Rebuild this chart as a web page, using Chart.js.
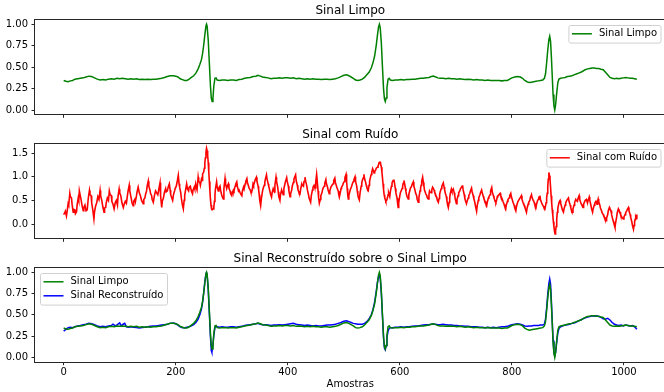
<!DOCTYPE html>
<html>
<head>
<meta charset="utf-8">
<script src="https://cdn.jsdelivr.net/npm/chart.js@4.4.0/dist/chart.umd.min.js"></script>
<style>
  html, body { margin: 0; padding: 0; background: #fff; overflow: hidden; }
  body { width: 664px; height: 392px; position: relative; }
  canvas { position: absolute; left: 0; }
</style>
</head>
<body>
<canvas id="c1" width="668" height="124" style="top:0px"></canvas>
<canvas id="c2" width="668" height="124" style="top:124px"></canvas>
<canvas id="c3" width="668" height="144" style="top:248px"></canvas>
<script>
// --- Dados (amostra, valor) ---
const nAmostras = 1024;
const ticksAmostras = [0, 200, 400, 600, 800, 1000];
const ticksLimpo = [0, 0.25, 0.5, 0.75, 1.0];
const ticksRuido = [0, 0.5, 1.0, 1.5];

const sinalLimpo = [
  [0,0.345],[4,0.335],[8,0.33],[12,0.34],[16,0.345],[20,0.36],[25,0.365],[30,0.37],[35,0.375],[40,0.385],
  [45,0.395],[50,0.39],[55,0.375],[60,0.36],[65,0.35],[70,0.355],[75,0.35],[80,0.36],[85,0.365],[90,0.36],
  [95,0.37],[100,0.365],[105,0.37],[110,0.365],[115,0.36],[120,0.365],[125,0.36],[130,0.365],[135,0.355],[140,0.36],
  [145,0.355],[150,0.36],[155,0.355],[160,0.36],[165,0.36],[170,0.365],[175,0.37],[180,0.38],[185,0.39],[190,0.40],
  [196,0.40],[200,0.395],[204,0.385],[208,0.365],[212,0.355],[216,0.345],[220,0.345],[224,0.36],[228,0.38],[232,0.40],
  [236,0.43],[240,0.48],[243,0.53],[246,0.59],[248,0.66],[250,0.76],[252,0.88],[254,0.98],[255,1.0],[256,0.98],
  [258,0.82],[260,0.55],[262,0.28],[263.5,0.14],[265,0.10],[266.5,0.14],[268,0.28],[270,0.37],[272,0.375],[274,0.35],
  [278,0.345],[283,0.35],[288,0.35],[293,0.345],[298,0.35],[303,0.35],[308,0.345],[313,0.355],[318,0.36],[323,0.37],
  [328,0.375],[333,0.38],[338,0.39],[343,0.395],[347,0.405],[351,0.395],[355,0.385],[360,0.38],[365,0.375],[370,0.365],
  [375,0.37],[380,0.37],[385,0.375],[390,0.37],[395,0.375],[400,0.375],[405,0.37],[410,0.375],[415,0.365],[420,0.37],
  [425,0.365],[430,0.36],[435,0.365],[440,0.36],[445,0.365],[450,0.36],[455,0.36],[460,0.355],[465,0.36],[470,0.36],
  [475,0.355],[480,0.36],[485,0.365],[490,0.375],[495,0.39],[500,0.405],[505,0.41],[509,0.40],[513,0.385],[517,0.37],
  [521,0.35],[525,0.345],[529,0.35],[533,0.36],[537,0.38],[541,0.41],[545,0.44],[549,0.49],[552,0.55],[555,0.63],
  [558,0.76],[560,0.87],[562,0.97],[563.5,1.0],[565,0.96],[567,0.78],[569,0.50],[571,0.24],[572.5,0.13],[574,0.10],
  [575.5,0.14],[577,0.26],[579,0.36],[581,0.37],[583,0.35],[587,0.345],[592,0.35],[597,0.35],[602,0.355],[607,0.35],
  [612,0.355],[617,0.355],[622,0.36],[627,0.36],[632,0.365],[637,0.37],[642,0.37],[647,0.375],[652,0.38],[656,0.39],
  [660,0.395],[664,0.385],[668,0.375],[672,0.37],[677,0.37],[682,0.365],[687,0.37],[692,0.365],[697,0.365],[702,0.36],
  [707,0.365],[712,0.36],[717,0.355],[722,0.36],[727,0.355],[732,0.35],[737,0.355],[742,0.35],[747,0.35],[752,0.345],
  [757,0.35],[762,0.345],[767,0.345],[772,0.345],[777,0.345],[782,0.34],[787,0.345],[792,0.345],[796,0.36],[800,0.375],
  [805,0.385],[810,0.39],[815,0.385],[819,0.37],[823,0.345],[827,0.33],[831,0.32],[835,0.325],[839,0.33],[843,0.335],
  [847,0.34],[851,0.345],[855,0.35],[858,0.37],[860,0.42],[862,0.55],[864,0.70],[866,0.82],[867.5,0.86],[869,0.80],
  [870.5,0.62],[872,0.40],[873.5,0.18],[875,0.05],[876.5,0.0],[878,0.06],[880,0.20],[882,0.32],[884,0.36],[887,0.37],
  [891,0.375],[895,0.38],[899,0.39],[903,0.395],[907,0.40],[911,0.41],[915,0.42],[919,0.43],[923,0.44],[927,0.455],
  [931,0.47],[935,0.48],[939,0.485],[943,0.49],[947,0.49],[951,0.485],[955,0.485],[959,0.475],[963,0.47],[967,0.44],
  [971,0.41],[975,0.38],[979,0.37],[983,0.365],[987,0.37],[991,0.365],[995,0.37],[999,0.375],[1003,0.38],[1007,0.375],
  [1011,0.37],[1015,0.37],[1019,0.365],[1023,0.36]
];

const sinalRuido = [
  [0,0.20],[2,0.24],[3,0.27],[5,0.17],[6,0.25],[8,0.43],[9,0.40],[11,0.65],[12,0.58],[14,0.55],
  [15,0.42],[17,0.25],[18,0.31],[20,0.30],[21,0.22],[23,0.26],[24,0.40],[26,0.55],[27,0.50],[28,0.70],
  [30,0.58],[31,0.52],[33,0.38],[35,0.28],[36,0.35],[38,0.40],[40,0.28],[42,0.30],[44,0.55],[46,0.71],
  [47,0.62],[49,0.60],[50,0.45],[52,0.30],[54,0.11],[55,0.25],[57,0.38],[59,0.45],[61,0.58],[63,0.52],
  [65,0.71],[66,0.60],[68,0.50],[70,0.36],[72,0.25],[73,0.34],[75,0.35],[76,0.45],[78,0.55],[80,0.50],
  [81.5,0.70],[83,0.62],[85,0.60],[86,0.48],[88,0.42],[90,0.32],[92,0.45],[94,0.50],[96,0.40],[97,0.58],
  [99,0.74],[100,0.66],[102,0.60],[104,0.45],[106.5,0.35],[108,0.42],[110,0.48],[112,0.44],[114,0.62],[115,0.70],
  [117,0.82],[118,0.70],[120,0.58],[122,0.45],[124,0.39],[125,0.48],[127,0.52],[128,0.47],[130,0.60],[131,0.68],
  [133,0.78],[135,0.66],[137,0.60],[139,0.50],[142,0.43],[143,0.52],[145,0.55],[146,0.62],[148,0.70],[149,0.80],
  [151,0.91],[152,0.80],[154,0.72],[155,0.65],[157,0.60],[158,0.52],[160,0.46],[162,0.60],[164,0.70],[166,0.66],
  [168,0.62],[170,0.74],[172,0.87],[173,0.60],[175,0.35],[176,0.48],[178,0.55],[180,0.68],[182,0.75],[183,0.68],
  [185,0.70],[187,0.80],[188.6,0.85],[190,0.72],[191,0.62],[193,0.55],[194.5,0.50],[196,0.62],[198,0.70],[199,0.75],
  [201,0.80],[203,0.92],[204.6,1.03],[206,0.85],[207,0.78],[209,0.66],[210,0.55],[212,0.40],[213.6,0.32],[215,0.50],
  [216,0.60],[218,0.75],[219.5,0.85],[221,0.74],[223,0.70],[224,0.78],[226,0.80],[228,0.70],[230,0.64],[231,0.72],
  [233,0.78],[234,0.74],[235.6,0.85],[237,0.76],[238,0.72],[240,0.99],[241,0.90],[243,0.88],[244,0.82],[246,0.95],
  [247,0.92],[248,1.06],[250,1.10],[251,1.18],[252,1.30],[253,1.40],[254,1.52],[255,1.60],[256,1.55],[257,1.45],
  [258,1.30],[259,1.10],[260,0.90],[261,0.70],[262,0.52],[263,0.40],[264,0.32],[265,0.30],[266,0.30],[267,0.32],
  [268,0.35],[269,0.48],[270,0.62],[271,0.75],[273,0.89],[274,0.78],[276,0.70],[277,0.76],[279,0.80],[280,0.72],
  [282,0.62],[283,0.58],[285,0.53],[286,0.75],[288,0.96],[289,0.85],[291,0.75],[292,0.80],[294,0.85],[295,0.76],
  [297,0.70],[298,0.64],[300,0.60],[301,0.66],[303,0.72],[304,0.70],[306,0.80],[307,0.84],[309,0.89],[310,0.80],
  [312,0.70],[313,0.72],[315,0.66],[316,0.64],[318,0.60],[319,0.70],[321,0.78],[322,0.74],[324,0.85],[325,0.90],
  [327,0.96],[328,0.88],[330,0.80],[331,0.76],[333,0.72],[334,0.68],[335.5,0.67],[337,0.76],[338,0.85],[339,0.82],
  [341,0.90],[342,0.94],[344,0.99],[345,0.90],[347,0.80],[348,0.72],[349,0.62],[350,0.50],[351.6,0.39],[353,0.55],
  [355,0.70],[356,0.75],[358,0.82],[359,0.88],[360,0.95],[362,1.04],[363,0.95],[365,0.85],[366,0.80],[368,0.70],
  [369,0.64],[371,0.57],[372,0.66],[374,0.75],[375,0.72],[376,0.68],[377,0.82],[379,0.99],[380,0.90],[382,0.78],
  [383,0.68],[384,0.58],[386,0.50],[387,0.62],[389,0.72],[390,0.68],[392,0.62],[393,0.75],[395,0.85],[396,0.90],
  [398,0.98],[399,0.90],[401,0.80],[402,0.70],[404,0.58],[405,0.64],[407,0.72],[408,0.80],[410,0.88],[411,0.95],
  [412,0.98],[414,1.04],[415,0.92],[417,0.82],[418,0.74],[419,0.70],[420,0.66],[421.8,0.64],[423,0.74],[425,0.85],
  [426,0.82],[428,0.80],[429,0.90],[430.7,0.99],[432,0.90],[434,0.80],[435,0.72],[437,0.62],[438,0.55],[440.8,0.46],
  [442,0.60],[444,0.72],[445,0.78],[447,0.82],[448,0.78],[449,0.76],[450,0.90],[451.5,1.05],[453,0.85],[454,0.70],
  [455,0.56],[456.3,0.44],[458,0.52],[459,0.60],[461,0.66],[462,0.72],[463,0.76],[465,0.80],[466,0.86],[468,0.94],
  [469,0.85],[471,0.78],[472,0.72],[474,0.64],[475,0.70],[477,0.78],[478,0.80],[480,0.84],[481,0.85],[482,0.92],
  [484,0.97],[485,0.88],[487,0.80],[488,0.76],[490,0.70],[491,0.62],[492,0.57],[494,0.68],[495,0.75],[496,0.78],
  [498,0.82],[499,0.86],[501,0.90],[502,0.98],[504,1.05],[505,0.90],[506,0.75],[507,0.62],[508,0.53],[509,0.60],
  [511,0.70],[512,0.74],[514,0.80],[515,0.84],[517,0.90],[518,0.94],[520,1.00],[521,0.90],[523,0.80],[524,0.70],
  [525,0.62],[526,0.56],[527.7,0.51],[529,0.66],[531,0.80],[532,0.86],[533,0.92],[535,0.98],[536,1.05],[537,0.96],
  [539,0.88],[540,0.82],[541,0.78],[542,0.74],[543.7,0.71],[545,0.82],[546,0.90],[547,0.96],[549,1.05],[550,1.10],
  [551.5,1.17],[553,1.12],[554,1.08],[555,1.10],[557,1.15],[558,1.18],[560,1.20],[561,1.22],[562,1.25],[563,1.30],
  [564.6,1.31],[565,1.30],[566,1.28],[567,1.20],[568,1.10],[569,0.98],[570,0.85],[571,0.72],[572,0.62],[573,0.56],
  [574,0.52],[575,0.48],[576.5,0.50],[578,0.56],[579,0.62],[580,0.66],[582,0.58],[583,0.68],[585,0.80],[586,0.86],
  [587,0.90],[588,0.92],[589.5,0.94],[591,0.82],[592,0.75],[593,0.66],[595,0.55],[596,0.44],[597,0.35],[598,0.45],
  [600,0.60],[601,0.66],[603,0.72],[604,0.75],[605,0.80],[606,0.86],[607.4,0.92],[609,0.82],[610,0.75],[611,0.68],
  [612,0.62],[613,0.58],[615,0.53],[616,0.62],[618,0.72],[619,0.76],[621,0.80],[622,0.84],[624,0.89],[625,0.80],
  [627,0.72],[628,0.66],[630,0.60],[631,0.52],[633,0.46],[634,0.56],[636,0.70],[637,0.76],[638,0.82],[639,0.90],
  [640.7,0.99],[642,0.88],[643,0.80],[644,0.72],[646,0.65],[647,0.62],[648,0.60],[649,0.56],[650.8,0.53],[652,0.62],
  [653,0.70],[654,0.68],[656,0.66],[657,0.72],[658.5,0.78],[660,0.75],[661,0.72],[662,0.68],[664,0.62],[665,0.58],
  [666,0.55],[667,0.50],[668.7,0.46],[670,0.54],[671,0.62],[672,0.68],[674,0.75],[675,0.80],[677.6,0.87],[679,0.78],
  [680,0.72],[681,0.66],[683,0.58],[684,0.50],[685,0.42],[686.5,0.35],[688,0.46],[689,0.55],[690,0.64],[692,0.74],
  [693,0.70],[695.4,0.74],[697,0.66],[698,0.60],[699,0.52],[701,0.43],[702,0.52],[704,0.60],[705,0.66],[707,0.70],
  [708,0.74],[710,0.78],[711,0.80],[712,0.82],[713,0.72],[715,0.62],[716,0.54],[717,0.50],[719,0.43],[720,0.48],
  [722,0.55],[723,0.60],[725,0.65],[726,0.70],[728,0.76],[729,0.68],[731,0.60],[732,0.54],[734,0.45],[735,0.38],
  [737,0.27],[738,0.38],[740,0.50],[741,0.56],[743,0.62],[744,0.66],[746,0.72],[747,0.66],[749,0.58],[750,0.54],
  [752,0.48],[753,0.44],[755,0.39],[756,0.46],[758,0.55],[759,0.58],[761,0.62],[762,0.70],[764,0.77],[765,0.68],
  [767,0.60],[768,0.56],[769,0.52],[770,0.49],[771.5,0.46],[773,0.52],[774,0.58],[775,0.60],[777,0.62],[778,0.64],
  [779,0.65],[780,0.60],[782,0.55],[784,0.48],[786,0.42],[787,0.38],[789,0.32],[790,0.40],[792,0.48],[793,0.52],
  [795,0.55],[796,0.60],[798,0.65],[799,0.58],[801,0.50],[802,0.46],[804,0.40],[805,0.34],[807,0.28],[808,0.36],
  [810,0.45],[811,0.48],[813,0.52],[815,0.56],[817,0.60],[818,0.52],[820,0.45],[821,0.42],[823,0.38],[824,0.32],
  [826,0.25],[827,0.33],[829,0.42],[830,0.46],[832,0.50],[833,0.56],[835,0.62],[836,0.56],[838,0.50],[839,0.48],
  [840,0.45],[841,0.40],[843,0.35],[844,0.42],[846,0.50],[847,0.52],[848,0.55],[849,0.58],[850,0.60],[851,0.52],
  [853,0.45],[854,0.42],[856,0.38],[857,0.35],[859,0.32],[860,0.38],[861,0.45],[862,0.55],[863,0.65],[864,0.80],
  [865,0.95],[866,1.09],[867,1.02],[868,0.95],[869,0.78],[870,0.60],[871,0.45],[872,0.30],[873,0.18],[874,0.05],
  [875,-0.05],[876,-0.15],[877,-0.21],[878,-0.14],[879,-0.05],[880,0.10],[881,0.25],[882,0.34],[884,0.45],[885,0.48],
  [886,0.50],[887,0.44],[889,0.35],[890,0.30],[892,0.25],[893,0.32],[895,0.40],[896,0.45],[898,0.50],[899,0.52],
  [901,0.55],[902,0.48],[904,0.40],[905,0.35],[906,0.30],[907,0.27],[908,0.25],[909,0.32],[911,0.40],[912,0.46],
  [914,0.52],[915,0.50],[917,0.48],[918,0.54],[920,0.60],[921,0.52],[923,0.45],[924,0.42],[925,0.40],[926,0.37],
  [927,0.35],[928,0.42],[930,0.48],[931,0.50],[933,0.52],[934,0.48],[935,0.45],[936,0.50],[938,0.57],[939,0.50],
  [941,0.40],[942,0.33],[944,0.25],[945,0.32],[947,0.40],[948,0.44],[950,0.48],[951,0.45],[952,0.42],[953,0.48],
  [954,0.53],[955,0.47],[957,0.40],[958,0.34],[960,0.28],[961,0.24],[963,0.20],[964,0.17],[965,0.15],[966,0.11],
  [968,0.07],[969,0.13],[971,0.20],[972,0.28],[974,0.35],[975,0.32],[977,0.28],[978,0.20],[980,0.10],[981,0.06],
  [982,0.02],[983,-0.03],[984,-0.07],[985,0.02],[987,0.15],[988,0.24],[990,0.32],[991,0.29],[993,0.25],[994,0.20],
  [996,0.15],[997,0.13],[999,0.11],[1000,0.15],[1002,0.20],[1003,0.24],[1005,0.28],[1006,0.31],[1008,0.35],[1009,0.28],
  [1011,0.20],[1012,0.14],[1014,0.05],[1015,-0.02],[1017,-0.11],[1018,-0.03],[1019,0.05],[1020,0.10],[1021,0.15],[1022,0.12],
  [1023,0.20]
];

const sinalReconstruido = [
  [0,0.31],[4,0.33],[8,0.35],[12,0.355],[16,0.35],[20,0.36],[25,0.37],[30,0.375],[35,0.385],[40,0.39],
  [45,0.40],[50,0.395],[55,0.385],[60,0.37],[65,0.36],[70,0.365],[75,0.36],[80,0.37],[85,0.375],[88,0.39],
  [92,0.37],[96,0.385],[100,0.405],[103,0.37],[106,0.39],[109,0.40],[112,0.36],[116,0.355],[120,0.36],[125,0.355],
  [130,0.35],[135,0.345],[140,0.35],[145,0.355],[150,0.36],[155,0.365],[160,0.37],[165,0.37],[170,0.375],[175,0.38],
  [180,0.385],[185,0.39],[190,0.40],[196,0.405],[200,0.395],[204,0.38],[208,0.36],[212,0.35],[216,0.35],[220,0.355],
  [224,0.36],[228,0.37],[232,0.385],[236,0.41],[240,0.45],[243,0.50],[246,0.57],[248,0.65],[250,0.76],[252,0.89],
  [254,0.985],[255,0.995],[256,0.97],[258,0.80],[260,0.52],[262,0.24],[263.5,0.08],[264.5,0.06],[266,0.12],[268,0.26],
  [270,0.35],[272,0.37],[274,0.36],[278,0.355],[283,0.36],[288,0.355],[293,0.355],[298,0.36],[303,0.36],[308,0.355],
  [313,0.36],[318,0.365],[323,0.375],[328,0.38],[333,0.385],[338,0.39],[343,0.395],[347,0.40],[351,0.39],[355,0.385],
  [360,0.385],[365,0.38],[370,0.375],[375,0.38],[380,0.38],[385,0.385],[390,0.38],[395,0.385],[400,0.39],[405,0.395],
  [410,0.40],[415,0.39],[420,0.385],[425,0.38],[430,0.375],[435,0.38],[440,0.375],[445,0.37],[450,0.375],[455,0.37],
  [460,0.37],[465,0.375],[470,0.38],[475,0.38],[480,0.385],[485,0.39],[490,0.40],[495,0.41],[500,0.425],[505,0.43],
  [509,0.42],[513,0.41],[517,0.40],[521,0.395],[525,0.39],[529,0.39],[533,0.39],[537,0.40],[541,0.42],[545,0.45],
  [549,0.50],[552,0.56],[555,0.65],[558,0.78],[560,0.88],[562,0.95],[563.5,0.97],[565,0.93],[567,0.75],[569,0.48],
  [571,0.22],[572.5,0.11],[574,0.09],[575.5,0.14],[577,0.24],[579,0.31],[581,0.34],[583,0.35],[587,0.35],[592,0.355],
  [597,0.355],[602,0.36],[607,0.355],[612,0.36],[617,0.36],[622,0.365],[627,0.37],[632,0.37],[637,0.375],[642,0.38],
  [647,0.385],[652,0.385],[656,0.39],[660,0.39],[664,0.39],[668,0.385],[672,0.385],[677,0.39],[682,0.385],[687,0.38],
  [692,0.38],[697,0.375],[702,0.375],[707,0.37],[712,0.37],[717,0.365],[722,0.365],[727,0.36],[732,0.36],[737,0.36],
  [742,0.355],[747,0.355],[752,0.35],[757,0.355],[762,0.35],[767,0.355],[772,0.35],[777,0.355],[782,0.36],[787,0.36],
  [792,0.365],[796,0.375],[800,0.385],[805,0.39],[810,0.395],[815,0.39],[819,0.38],[823,0.37],[827,0.365],[831,0.37],
  [835,0.37],[839,0.375],[843,0.375],[847,0.375],[851,0.38],[855,0.38],[858,0.39],[860,0.45],[862,0.58],[864,0.74],
  [866,0.87],[867.5,0.92],[869,0.86],[870.5,0.66],[872,0.43],[873.5,0.20],[875,0.06],[876.5,0.02],[878,0.06],[880,0.18],
  [882,0.29],[884,0.34],[887,0.36],[891,0.37],[895,0.38],[899,0.385],[903,0.39],[907,0.40],[911,0.405],[915,0.415],
  [919,0.43],[923,0.44],[927,0.455],[931,0.465],[935,0.475],[939,0.48],[943,0.49],[947,0.485],[951,0.49],[955,0.48],
  [959,0.47],[963,0.455],[967,0.45],[971,0.46],[975,0.44],[979,0.41],[983,0.39],[987,0.38],[991,0.375],[995,0.38],
  [999,0.37],[1003,0.38],[1007,0.375],[1011,0.37],[1015,0.375],[1019,0.36],[1023,0.33]
];

// --- Estilo ---
const FONT = '"DejaVu Sans", sans-serif';
const EIXO = '#262626';

// margem de 5% como no matplotlib
function faixa(lo, hi) { const m = (hi - lo) * 0.05; return [lo - m, hi + m]; }
const [xMin, xMax] = faixa(0, nAmostras - 1);
function faixaY(lista) {
  const vals = lista.flatMap(s => s.map(p => p[1]));
  return faixa(Math.min(...vals), Math.max(...vals));
}

// moldura completa (4 lados)
const moldura = {
  id: 'moldura',
  afterDatasetsDraw(chart) {
    const { ctx, chartArea: a } = chart;
    ctx.save();
    ctx.strokeStyle = EIXO;
    ctx.lineWidth = 1;
    ctx.strokeRect(Math.round(a.left) - 0.5, Math.round(a.top) - 0.5, Math.round(a.right) - Math.round(a.left) + 1, Math.round(a.bottom) - Math.round(a.top) + 1);
    ctx.restore();
  }
};

// legenda no estilo matplotlib, dentro da área
const legendaMpl = {
  id: 'legendaMpl',
  afterDatasetsDraw(chart, args, opts) {
    const { ctx, chartArea: a } = chart;
    const fs = 10, pad = 3.5, handle = 20, gap = 7, row = 14;
    const itens = chart.data.datasets;
    ctx.save();
    ctx.font = fs + 'px ' + FONT;
    const tw = Math.max(...itens.map(d => ctx.measureText(d.label).width));
    const w = pad + handle + gap + tw + pad;
    const h = 3.6 + row * itens.length;
    const x = opts.canto === 'left' ? a.left + 5 : a.right - 5 - w;
    const y = a.top + 5;
    ctx.beginPath();
    ctx.roundRect(x + 0.5, y + 0.5, w, h, 2);
    ctx.fillStyle = 'rgba(255,255,255,0.8)';
    ctx.fill();
    ctx.strokeStyle = '#d0d0d0';
    ctx.lineWidth = 1;
    ctx.stroke();
    itens.forEach((d, i) => {
      const cy = y + 8.8 + i * row;
      ctx.beginPath();
      ctx.moveTo(x + pad, cy);
      ctx.lineTo(x + pad + handle, cy);
      ctx.strokeStyle = d.borderColor;
      ctx.lineWidth = 1.5;
      ctx.stroke();
      ctx.fillStyle = '#000';
      ctx.textBaseline = 'middle';
      ctx.fillText(d.label, x + pad + handle + gap, cy);
    });
    ctx.restore();
  }
};

function painel(id, titulo, series, ticksY, casas, cfg) {
  const [yMin, yMax] = faixaY(series.map(s => s.pontos));
  return new Chart(document.getElementById(id).getContext('2d'), {
    type: 'line',
    data: {
      datasets: series.map(s => ({
        label: s.nome,
        data: s.pontos.map(p => ({ x: p[0], y: p[1] })),
        borderColor: s.cor,
        backgroundColor: s.cor,
        borderWidth: s.espessura || 1.5,
        pointRadius: 0,
        tension: 0
      }))
    },
    options: {
      responsive: false,
      animation: false,
      devicePixelRatio: 1,
      layout: { padding: { left: 0, right: 2.5, top: 0, bottom: 0 } },
      plugins: {
        legend: { display: false },
        tooltip: { enabled: false },
        title: {
          display: true, text: titulo, color: '#000', fullSize: false,
          font: { family: FONT, size: 12, weight: 'normal' },
          padding: { top: 3.8, bottom: 1.8 }
        },
        legendaMpl: { canto: cfg.canto }
      },
      scales: {
        x: {
          type: 'linear', min: xMin, max: xMax,
          afterBuildTicks: s => { s.ticks = ticksAmostras.map(v => ({ value: v })); },
          afterFit: s => { s.height = cfg.alturaX; },
          grid: { drawOnChartArea: false, drawTicks: true, tickLength: 3.5, tickColor: EIXO, tickWidth: 1 },
          border: { display: false },
          ticks: { display: cfg.mostrarX, color: '#000', padding: 1, maxRotation: 0, font: { family: FONT, size: 10 }, callback: v => String(v) },
          title: { display: cfg.mostrarX, text: 'Amostras', color: '#000', font: { family: FONT, size: 10 }, padding: { top: 0, bottom: 2 } }
        },
        y: {
          type: 'linear', min: yMin, max: yMax,
          afterBuildTicks: s => { s.ticks = ticksY.map(v => ({ value: v })); },
          afterFit: s => { s.width = 35; },
          grid: { drawOnChartArea: false, drawTicks: true, tickLength: 3.5, tickColor: EIXO, tickWidth: 1 },
          border: { display: false },
          ticks: { color: '#000', padding: 3.5, font: { family: FONT, size: 10 }, callback: v => v.toFixed(casas) }
        }
      }
    },
    plugins: [moldura, legendaMpl]
  });
}

painel('c1', 'Sinal Limpo',
  [{ nome: 'Sinal Limpo', pontos: sinalLimpo, cor: 'green' }],
  ticksLimpo, 2, { canto: 'right', alturaX: 9.7, mostrarX: false });

painel('c2', 'Sinal com Ruído',
  [{ nome: 'Sinal com Ruído', pontos: sinalRuido, cor: 'red', espessura: 1.6 }],
  ticksRuido, 1, { canto: 'right', alturaX: 9.7, mostrarX: false });

painel('c3', 'Sinal Reconstruído sobre o Sinal Limpo',
  [{ nome: 'Sinal Limpo', pontos: sinalLimpo, cor: 'green' },
   { nome: 'Sinal Reconstruído', pontos: sinalReconstruido, cor: 'blue' }],
  ticksLimpo, 2, { canto: 'left', alturaX: 30.3, mostrarX: true });
</script>
</body>
</html>
